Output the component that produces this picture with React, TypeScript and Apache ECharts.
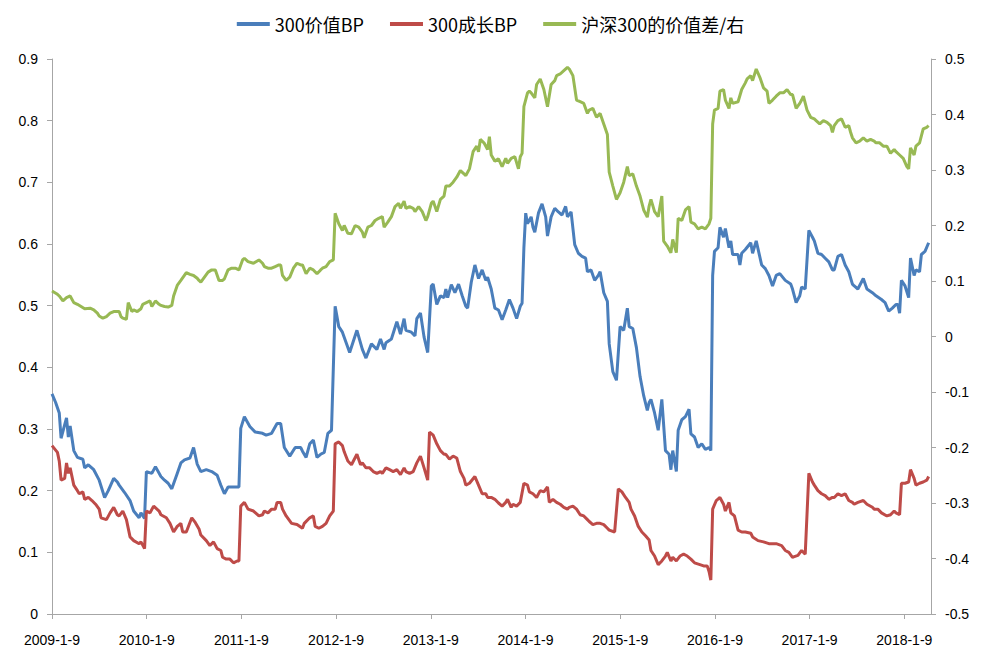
import React, { useEffect, useRef } from "react";
import * as echarts from "echarts";

// x = weeks since 2009-1-9 (weekly observations), y = value
const seriesNames = ["300价值BP", "300成长BP", "沪深300的价值差/右"];
const startYear = 2009;
const labelMonthDay = "1-9";
const weeksPerYear = 365.25 / 7;
const lastWeek = 484.3;

const valueBP: [number, number][] = [
  [0,0.357],[2,0.343],[4,0.326],[5,0.285],[8,0.318],[9,0.287],[10,0.305],[12,0.265],[14,0.254],[17,0.251],
  [18,0.237],[20,0.242],[23,0.234],[26,0.217],[29,0.189],[31,0.200],[34,0.220],[36,0.214],[37,0.209],[40,0.197],
  [43,0.184],[45,0.167],[48,0.156],[49,0.164],[51,0.155],[52,0.231],[55,0.228],[57,0.239],[60,0.223],[62,0.217],
  [64,0.212],[66,0.203],[69,0.228],[71,0.245],[73,0.250],[76,0.253],[78,0.270],[80,0.243],[82,0.231],[85,0.234],
  [88,0.231],[91,0.225],[93,0.209],[95,0.195],[97,0.206],[100,0.206],[103,0.206],[104,0.301],[106,0.320],[109,0.304],
  [112,0.295],[116,0.293],[118,0.290],[121,0.293],[124,0.309],[126,0.309],[128,0.270],[131,0.256],[134,0.270],[137,0.270],
  [138,0.264],[140,0.254],[142,0.276],[144,0.282],[146,0.254],[148,0.259],[150,0.262],[152,0.293],[154,0.298],[156,0.499],
  [158,0.466],[160,0.457],[164,0.424],[168,0.460],[171,0.429],[173,0.415],[176,0.438],[179,0.429],[181,0.446],[183,0.429],
  [184,0.440],[187,0.446],[190,0.474],[192,0.454],[194,0.479],[195,0.460],[198,0.457],[200,0.451],[201,0.479],[203,0.488],
  [205,0.449],[207,0.424],[209,0.532],[210,0.535],[212,0.502],[214,0.516],[216,0.513],[217,0.527],[218,0.513],[220,0.534],
  [222,0.521],[224,0.535],[226,0.516],[228,0.499],[229,0.496],[231,0.538],[233,0.566],[235,0.544],[237,0.558],[239,0.541],
  [240,0.546],[242,0.527],[244,0.496],[246,0.493],[248,0.477],[250,0.493],[252,0.510],[254,0.496],[256,0.479],[258,0.499],
  [259,0.504],[260,0.594],[261,0.650],[262,0.633],[264,0.644],[265,0.627],[266,0.619],[268,0.650],[270,0.665],[272,0.644],
  [273,0.613],[275,0.644],[277,0.658],[279,0.652],[281,0.647],[283,0.661],[284,0.644],[286,0.652],[288,0.599],[290,0.585],
  [292,0.580],[294,0.577],[295,0.555],[297,0.558],[299,0.541],[301,0.549],[302,0.555],[304,0.521],[306,0.507],[307,0.438],
  [309,0.393],[311,0.379],[313,0.466],[315,0.460],[317,0.496],[318,0.466],[320,0.463],[322,0.432],[324,0.385],[326,0.354],
  [328,0.330],[329,0.343],[330,0.348],[332,0.326],[334,0.298],[336,0.348],[338,0.265],[340,0.259],[341,0.234],[342,0.265],
  [344,0.231],[345,0.298],[347,0.315],[349,0.320],[351,0.332],[352,0.292],[354,0.287],[356,0.270],[358,0.276],[360,0.267],
  [362,0.270],[363,0.265],[364,0.549],[365,0.588],[367,0.594],[368,0.627],[370,0.611],[371,0.625],[373,0.594],[374,0.605],
  [375,0.583],[378,0.583],[379,0.566],[380,0.585],[382,0.591],[385,0.602],[386,0.585],[388,0.605],[391,0.566],[393,0.560],
  [395,0.549],[397,0.532],[399,0.549],[401,0.552],[404,0.541],[407,0.535],[408,0.527],[410,0.505],[412,0.516],[413,0.530],
  [415,0.527],[417,0.622],[419,0.611],[420,0.605],[422,0.585],[424,0.583],[426,0.577],[428,0.571],[430,0.558],[431,0.558],
  [433,0.580],[435,0.583],[437,0.566],[439,0.555],[441,0.535],[442,0.532],[444,0.527],[447,0.544],[449,0.527],[452,0.521],
  [454,0.516],[457,0.510],[459,0.505],[461,0.491],[463,0.496],[465,0.502],[466,0.502],[467,0.488],[468,0.541],[470,0.532],
  [472,0.513],[473,0.577],[475,0.549],[476,0.558],[478,0.555],[479,0.583],[481,0.588],[483,0.602]
];

const growthBP: [number, number][] = [
  [0,0.273],[3,0.262],[4,0.248],[5,0.217],[7,0.220],[8,0.245],[9,0.228],[10,0.237],[12,0.209],[14,0.200],
  [15,0.195],[17,0.198],[18,0.186],[20,0.189],[22,0.184],[24,0.178],[26,0.170],[27,0.156],[30,0.153],[32,0.164],
  [34,0.173],[36,0.161],[37,0.159],[39,0.167],[41,0.153],[43,0.125],[45,0.119],[48,0.114],[49,0.117],[51,0.106],
  [52,0.167],[54,0.164],[56,0.175],[59,0.167],[60,0.161],[63,0.156],[65,0.147],[67,0.133],[69,0.142],[71,0.147],
  [72,0.133],[74,0.133],[77,0.156],[79,0.148],[81,0.138],[82,0.128],[85,0.119],[87,0.111],[89,0.117],[91,0.106],
  [93,0.103],[94,0.092],[96,0.089],[98,0.089],[100,0.083],[102,0.086],[103,0.086],[104,0.175],[106,0.181],[108,0.170],
  [111,0.167],[114,0.159],[116,0.161],[117,0.167],[119,0.164],[121,0.170],[123,0.170],[124,0.181],[126,0.181],[127,0.170],
  [129,0.159],[132,0.147],[135,0.145],[138,0.139],[139,0.147],[142,0.156],[144,0.159],[145,0.142],[147,0.139],[149,0.142],
  [151,0.147],[153,0.159],[155,0.167],[156,0.276],[158,0.279],[160,0.273],[161,0.263],[163,0.248],[165,0.242],[168,0.259],
  [170,0.242],[171,0.245],[173,0.237],[175,0.237],[177,0.231],[179,0.228],[181,0.231],[182,0.228],[184,0.237],[186,0.234],
  [188,0.231],[190,0.234],[192,0.226],[194,0.237],[195,0.231],[197,0.228],[199,0.231],[201,0.245],[203,0.256],[205,0.237],
  [207,0.217],[208,0.295],[210,0.290],[212,0.276],[214,0.265],[216,0.259],[217,0.259],[219,0.251],[221,0.256],[223,0.253],
  [225,0.231],[227,0.220],[228,0.209],[230,0.212],[233,0.223],[235,0.209],[237,0.195],[239,0.195],[240,0.189],[242,0.189],
  [244,0.186],[246,0.180],[248,0.175],[250,0.181],[251,0.186],[253,0.173],[254,0.178],[256,0.175],[258,0.181],[260,0.212],
  [262,0.209],[263,0.198],[265,0.195],[267,0.189],[269,0.200],[271,0.198],[273,0.206],[274,0.181],[276,0.186],[278,0.181],
  [280,0.178],[282,0.173],[284,0.170],[285,0.173],[287,0.175],[289,0.170],[291,0.161],[293,0.159],[295,0.153],[296,0.150],
  [298,0.145],[300,0.147],[302,0.147],[304,0.145],[306,0.139],[307,0.136],[310,0.133],[312,0.203],[314,0.198],[316,0.189],
  [318,0.181],[319,0.170],[321,0.159],[323,0.142],[325,0.133],[327,0.127],[329,0.120],[330,0.103],[332,0.094],[334,0.080],
  [336,0.086],[338,0.094],[339,0.100],[341,0.086],[342,0.092],[344,0.086],[346,0.094],[348,0.097],[350,0.094],[352,0.089],
  [354,0.083],[357,0.080],[359,0.078],[361,0.078],[362,0.069],[363,0.055],[364,0.170],[366,0.184],[368,0.189],[370,0.178],
  [371,0.167],[373,0.181],[374,0.164],[376,0.159],[378,0.136],[380,0.133],[382,0.133],[385,0.131],[386,0.125],[389,0.119],
  [392,0.117],[395,0.114],[397,0.114],[399,0.114],[402,0.111],[404,0.103],[406,0.100],[408,0.092],[409,0.093],[411,0.095],
  [413,0.103],[415,0.097],[417,0.228],[419,0.214],[420,0.209],[422,0.200],[424,0.195],[426,0.192],[428,0.186],[430,0.189],
  [431,0.189],[433,0.195],[435,0.192],[437,0.195],[439,0.184],[441,0.181],[442,0.178],[444,0.181],[447,0.184],[449,0.178],
  [452,0.173],[453,0.170],[455,0.170],[457,0.164],[460,0.159],[462,0.161],[464,0.167],[465,0.164],[467,0.161],[468,0.212],
  [470,0.212],[472,0.214],[473,0.234],[475,0.220],[476,0.209],[478,0.212],[480,0.214],[482,0.217],[483,0.223]
];

const valueSpread: [number, number][] = [
  [0,0.082],[3,0.076],[4,0.073],[6,0.064],[8,0.070],[10,0.073],[12,0.061],[14,0.058],[16,0.054],[18,0.050],
  [21,0.051],[23,0.048],[25,0.042],[26,0.037],[28,0.033],[30,0.036],[32,0.042],[34,0.045],[37,0.045],[38,0.036],
  [39,0.033],[41,0.031],[42,0.061],[44,0.045],[45,0.048],[47,0.045],[49,0.050],[50,0.058],[52,0.061],[54,0.064],
  [55,0.054],[57,0.064],[59,0.058],[60,0.056],[62,0.054],[64,0.053],[66,0.056],[67,0.073],[69,0.092],[71,0.101],
  [74,0.115],[76,0.112],[78,0.110],[80,0.105],[81,0.101],[82,0.098],[84,0.107],[86,0.116],[88,0.120],[90,0.120],
  [92,0.101],[94,0.101],[95,0.104],[97,0.120],[99,0.123],[101,0.123],[103,0.120],[105,0.138],[106,0.141],[108,0.135],
  [111,0.132],[114,0.138],[116,0.132],[117,0.126],[119,0.123],[121,0.123],[123,0.126],[125,0.129],[126,0.129],[127,0.110],
  [129,0.101],[131,0.107],[133,0.123],[135,0.132],[137,0.129],[138,0.129],[140,0.113],[142,0.123],[144,0.120],[146,0.113],
  [148,0.120],[149,0.123],[151,0.126],[153,0.135],[155,0.138],[156,0.222],[158,0.203],[160,0.191],[161,0.200],[163,0.186],
  [165,0.185],[167,0.200],[169,0.197],[171,0.188],[172,0.178],[174,0.197],[176,0.200],[178,0.209],[180,0.213],[182,0.216],
  [183,0.197],[185,0.206],[187,0.216],[189,0.234],[191,0.240],[192,0.231],[194,0.244],[195,0.231],[197,0.234],[199,0.231],
  [200,0.225],[202,0.234],[204,0.225],[206,0.209],[207,0.216],[209,0.240],[210,0.244],[212,0.225],[214,0.247],[216,0.253],
  [217,0.271],[219,0.271],[221,0.278],[223,0.287],[225,0.299],[227,0.293],[228,0.290],[230,0.302],[232,0.333],[234,0.343],
  [235,0.333],[236,0.355],[238,0.349],[240,0.337],[241,0.360],[242,0.327],[244,0.316],[246,0.320],[248,0.306],[250,0.321],
  [251,0.312],[253,0.321],[255,0.324],[257,0.302],[258,0.324],[259,0.330],[260,0.414],[262,0.439],[263,0.442],[264,0.439],
  [266,0.430],[267,0.454],[269,0.464],[271,0.445],[273,0.414],[275,0.454],[277,0.461],[278,0.470],[280,0.473],[282,0.479],
  [284,0.485],[285,0.482],[287,0.470],[289,0.426],[291,0.423],[293,0.420],[295,0.402],[296,0.408],[298,0.411],[300,0.395],
  [302,0.402],[304,0.383],[306,0.364],[307,0.296],[309,0.271],[311,0.247],[313,0.259],[315,0.278],[317,0.306],[318,0.290],
  [320,0.293],[322,0.271],[324,0.253],[326,0.228],[328,0.215],[329,0.235],[330,0.247],[332,0.225],[334,0.216],[336,0.253],
  [337,0.172],[339,0.163],[341,0.151],[342,0.175],[344,0.151],[345,0.213],[347,0.209],[349,0.228],[351,0.234],[352,0.206],
  [354,0.203],[356,0.194],[358,0.197],[360,0.194],[362,0.203],[363,0.213],[364,0.383],[365,0.408],[367,0.411],[368,0.442],
  [370,0.445],[371,0.426],[373,0.411],[374,0.430],[375,0.420],[378,0.423],[380,0.445],[382,0.457],[383,0.464],[385,0.470],
  [386,0.461],[388,0.482],[390,0.467],[392,0.448],[394,0.442],[395,0.420],[397,0.426],[399,0.433],[401,0.439],[403,0.439],
  [405,0.445],[407,0.436],[408,0.436],[410,0.411],[412,0.420],[413,0.426],[414,0.433],[416,0.408],[418,0.395],[420,0.392],
  [421,0.389],[423,0.383],[425,0.389],[427,0.386],[429,0.380],[430,0.368],[431,0.380],[433,0.389],[435,0.392],[437,0.377],
  [439,0.380],[440,0.368],[441,0.358],[443,0.349],[445,0.352],[447,0.358],[449,0.352],[451,0.355],[453,0.352],[454,0.349],
  [456,0.349],[458,0.343],[460,0.343],[462,0.330],[464,0.337],[465,0.333],[467,0.327],[469,0.321],[471,0.306],[472,0.302],
  [473,0.340],[475,0.327],[476,0.343],[478,0.349],[480,0.374],[482,0.377],[483,0.380]
];

const colors = ["#4A7EBB", "#BE4B48", "#98B954"];
const axisColor = "#A6A6A6";
const labelFont = "'Liberation Sans', Arial, sans-serif";
const legendFont = "'Liberation Sans Narrow', 'Noto Sans CJK SC', sans-serif";

const fmtY = (v: number) => (Math.abs(v) < 1e-9 ? "0" : String(Math.round(v * 10) / 10));

export default function App() {
  const ref = useRef<HTMLDivElement>(null);
  useEffect(() => {
    if (!ref.current) return;
    const chart = echarts.init(ref.current, undefined, { renderer: "svg" });
    const yAxisCommon = {
      type: "value" as const,
      interval: 0.1,
      splitLine: { show: false },
      axisLine: { show: true, lineStyle: { color: axisColor, width: 1 } },
      axisTick: { show: true, length: 5, lineStyle: { color: axisColor } },
      axisLabel: { color: "#000", fontSize: 14, fontFamily: labelFont, margin: 14, formatter: fmtY },
    };
    chart.setOption({
      animation: false,
      backgroundColor: "#ffffff",
      color: colors,
      legend: {
        top: 10,
        left: "center",
        icon: "rect",
        itemWidth: 33,
        itemHeight: 4,
        itemGap: 26,
        textStyle: { fontSize: 18, color: "#000", fontFamily: legendFont },
        data: seriesNames,
      },
      grid: { left: 52, right: 50, top: 59, bottom: 43 },
      xAxis: {
        type: "value",
        min: 0,
        max: lastWeek,
        interval: weeksPerYear,
        splitLine: { show: false },
        axisLine: { onZero: false, lineStyle: { color: axisColor, width: 1 } },
        axisTick: { show: true, length: 5, lineStyle: { color: axisColor } },
        axisLabel: {
          color: "#000",
          fontSize: 14,
          fontFamily: labelFont,
          margin: 19,
          showMaxLabel: false,
          formatter: (v: number) => `${startYear + Math.round(v / weeksPerYear)}-${labelMonthDay}`,
        },
      },
      yAxis: [
        { ...yAxisCommon, min: 0, max: 0.9, position: "left" },
        { ...yAxisCommon, min: -0.5, max: 0.5, position: "right" },
      ],
      series: [
        { name: seriesNames[0], type: "line", data: valueBP, yAxisIndex: 0, symbol: "none", showSymbol: false, lineStyle: { width: 3 } },
        { name: seriesNames[1], type: "line", data: growthBP, yAxisIndex: 0, symbol: "none", showSymbol: false, lineStyle: { width: 3 } },
        { name: seriesNames[2], type: "line", data: valueSpread, yAxisIndex: 1, symbol: "none", showSymbol: false, lineStyle: { width: 3 } },
      ],
    });
    return () => chart.dispose();
  }, []);
  return <div ref={ref} style={{ position: "absolute", left: 0, top: 0, width: 981, height: 657 }} />;
}
